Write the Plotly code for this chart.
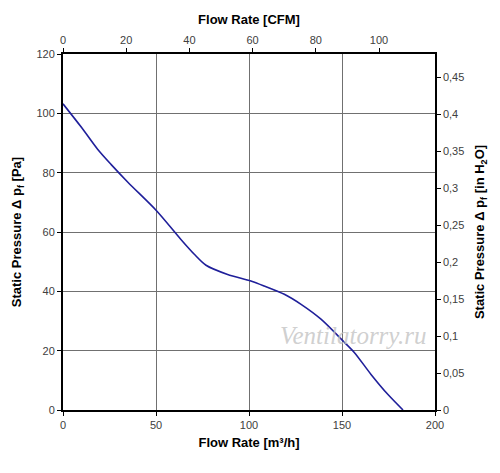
import plotly.graph_objects as go

# fan curve
flow_m3h = [0, 10, 18.6, 25.8, 35, 50.4, 63.4, 70.6, 76.9, 88.5, 101, 108.2, 119, 128,
            138.7, 150.5, 156.6, 165.6, 174.6, 182.8]
pressure_pa = [103.2, 95.2, 87.9, 82.8, 76.7, 67.1, 57.5, 52.5, 48.8, 45.7, 43.5, 41.8, 39,
               35.6, 30.6, 23.3, 19.4, 12, 5.3, 0]

M3H_PER_CFM = 1.699
PA_PER_INH2O = 249.09

x_range = [0, 200]
y_range = [0, 120]

flow_cfm = [v / M3H_PER_CFM for v in flow_m3h]
pressure_inh2o = [v / PA_PER_INH2O for v in pressure_pa]

tick_font = dict(family="Liberation Sans, Arial", size=11, color="#404040")
title_font = dict(family="Liberation Sans, Arial", size=13, color="black")

fig = go.Figure()
fig.add_trace(go.Scatter(
    x=flow_m3h, y=pressure_pa,
    mode="lines",
    line=dict(color="#1f1f9a", width=1.6, shape="spline", smoothing=0.8),
    hoverinfo="x+y",
))
# invisible trace so the CFM / inH2O axes get drawn
fig.add_trace(go.Scatter(
    x=flow_cfm, y=pressure_inh2o,
    xaxis="x2", yaxis="y2",
    mode="lines", line=dict(color="rgba(0,0,0,0)"),
    hoverinfo="skip",
))

fig.update_layout(
    width=500, height=473,
    margin=dict(l=55, r=73, t=46, b=71),
    paper_bgcolor="white", plot_bgcolor="white",
    showlegend=False,
    separators=", ",
    xaxis=dict(
        range=x_range, dtick=50, showgrid=True, gridcolor="#707070", gridwidth=1,
        zeroline=False, showline=True, linecolor="black", linewidth=2,
        ticks="outside", ticklen=4, tickcolor="black", tickfont=tick_font,
        automargin=False,
        title=dict(text="<b>Flow Rate [m³/h]</b>", font=title_font, standoff=8),
    ),
    xaxis2=dict(
        range=[x_range[0] / M3H_PER_CFM, x_range[1] / M3H_PER_CFM], dtick=20,
        overlaying="x", side="top", showgrid=False, zeroline=False,
        showline=True, linecolor="black", linewidth=1.5,
        ticks="outside", ticklen=4, tickcolor="black", tickfont=tick_font,
        automargin=False,
        title=dict(text="<b>Flow Rate [CFM]</b>", font=title_font, standoff=6),
    ),
    yaxis=dict(
        range=y_range, dtick=20, showgrid=True, gridcolor="#707070", gridwidth=1,
        zeroline=False, showline=True, linecolor="black", linewidth=2,
        ticks="outside", ticklen=4, tickcolor="black", tickfont=tick_font,
        automargin=False,
        title=dict(text="<b>Static Pressure Δ p<sub>f</sub> [Pa]</b>", font=title_font, standoff=12),
    ),
    yaxis2=dict(
        range=[y_range[0] / PA_PER_INH2O, y_range[1] / PA_PER_INH2O], dtick=0.05,
        overlaying="y", side="right", showgrid=False, zeroline=False,
        showline=True, linecolor="black", linewidth=1.5,
        ticks="outside", ticklen=4, tickcolor="black", tickfont=tick_font,
        automargin=False,
        title=dict(text="<b>Static Pressure Δ p<sub>f</sub> [in H<sub>2</sub>O]</b>",
                   font=title_font, standoff=12),
    ),
    annotations=[dict(
        text="Ventilatorry.ru", x=0.78, y=0.21, xref="paper", yref="paper",
        xanchor="center", yanchor="middle", showarrow=False,
        font=dict(family="Liberation Serif", size=25, color="rgba(195,195,195,0.8)",
                  style="italic"),
    )],
)

fig.write_html("out.html")
